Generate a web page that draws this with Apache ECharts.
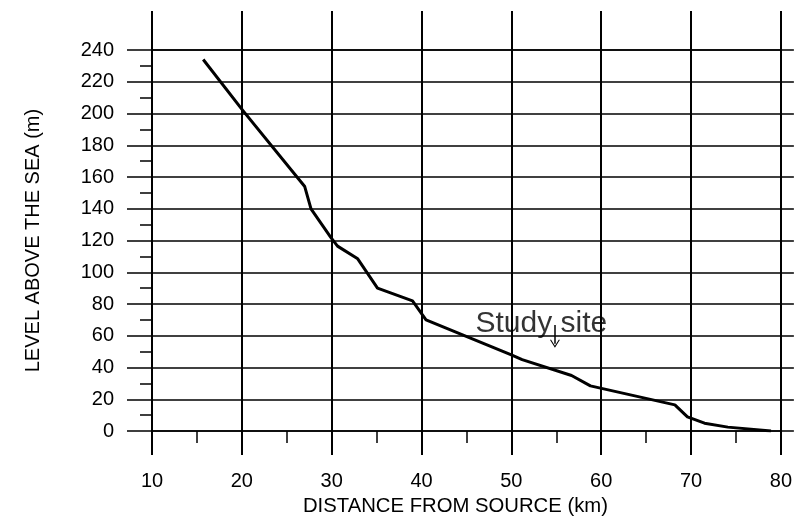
<!DOCTYPE html>
<html>
<head>
<meta charset="utf-8">
<script src="https://cdn.jsdelivr.net/npm/echarts@6/dist/echarts.min.js"></script>
<style>
html,body{margin:0;padding:0;background:#fff;}
#chart{width:795px;height:521px;}
</style>
</head>
<body>
<div id="chart"></div>
<script>
// Longitudinal profile: distance from source (km) vs level above sea (m)
const distanceKm = [15.7, 20.1, 27.0, 27.7, 29.9, 30.65, 32.9, 35.1, 39.0, 40.5, 50.0, 51.2, 56.7, 58.8, 68.2, 69.6, 71.5, 74.1, 78.9];
const levelM     = [234, 202, 154, 140, 122, 116.5, 108.5, 90, 82, 70, 48, 45, 35, 28.5, 16.5, 9, 5, 2.5, 0];

const xTicks = [10, 20, 30, 40, 50, 60, 70, 80];
const yTicks = [0, 20, 40, 60, 80, 100, 120, 140, 160, 180, 200, 220, 240];

// annotation: label anchor (left edge, middle) and arrow (x, from y, to y) in data units
const annotationText = ['Study site'];
const annotationX = [46.0];
const annotationY = [67.5];
const arrowX = [54.85];
const arrowFromY = [66.8];
const arrowToY = [55.0];

const xTitle = 'DISTANCE FROM SOURCE (km)';
const yTitle = 'LEVEL ABOVE THE SEA (m)';

const FONT = '"Liberation Sans", Arial, sans-serif';
const chart = echarts.init(document.getElementById('chart'), null, {renderer: 'canvas'});

const xMin = xTicks[0], xMax = xTicks[xTicks.length - 1];
const yMin = yTicks[0], yMax = yTicks[yTicks.length - 1];
const xInt = xTicks[1] - xTicks[0], yInt = yTicks[1] - yTicks[0];

const arrowHead = 'path://M5,0 L10,8 L8.8,8 L5,2 L1.2,8 L0,8 Z';

const option = {
  backgroundColor: '#ffffff',
  animation: false,
  grid: {left: 152, right: 12, top: 50, bottom: 83, containLabel: false},
  xAxis: [
    {
      type: 'value', position: 'bottom', min: xMin, max: xMax, interval: xInt,
      axisLine: {show: true, onZero: false, lineStyle: {color: '#000', width: 1.5}},
      axisTick: {show: true, length: 24, lineStyle: {color: '#000', width: 2}},
      minorTick: {show: true, splitNumber: 2, length: 12, lineStyle: {color: '#000', width: 1.5}},
      splitLine: {show: true, lineStyle: {color: '#000', width: 2}},
      axisLabel: {margin: 40, fontSize: 20, color: '#000', fontFamily: FONT},
      name: xTitle, nameLocation: 'middle', nameGap: 62,
      nameTextStyle: {fontSize: 20.3, color: '#000', fontFamily: FONT, padding: [0, 22, 0, 0]}
    },
    {
      type: 'value', position: 'top', min: xMin, max: xMax, interval: xInt,
      axisLine: {show: true, onZero: false, lineStyle: {color: '#000', width: 1.5}},
      axisTick: {show: true, length: 39, lineStyle: {color: '#000', width: 2}},
      axisLabel: {show: false},
      splitLine: {show: false}
    }
  ],
  yAxis: [
    {
      type: 'value', position: 'left', min: yMin, max: yMax, interval: yInt,
      axisLine: {show: true, onZero: false, lineStyle: {color: '#000', width: 2}},
      axisTick: {show: true, length: 25, lineStyle: {color: '#000', width: 1.5}},
      minorTick: {show: true, splitNumber: 2, length: 12, lineStyle: {color: '#000', width: 1.5}},
      splitLine: {show: true, lineStyle: {color: '#000', width: 1.5}},
      axisLabel: {margin: 38, fontSize: 20, color: '#000', fontFamily: FONT},
      name: yTitle, nameLocation: 'middle', nameGap: 109, nameRotate: 90,
      nameTextStyle: {fontSize: 20, color: '#000', fontFamily: FONT}
    },
    {
      type: 'value', position: 'right', min: yMin, max: yMax, interval: yInt,
      axisLine: {show: true, onZero: false, lineStyle: {color: '#000', width: 2}},
      axisTick: {show: true, length: 13, lineStyle: {color: '#000', width: 1.5}},
      axisLabel: {show: false},
      splitLine: {show: false}
    }
  ],
  series: [
    {
      type: 'line', xAxisIndex: 0, yAxisIndex: 0,
      data: distanceKm.map((d, i) => [d, levelM[i]]),
      showSymbol: false, symbol: 'none',
      lineStyle: {color: '#000', width: 3, join: 'round'},
      z: 5
    },
    {
      type: 'scatter', xAxisIndex: 0, yAxisIndex: 0,
      symbolSize: 0,
      data: annotationText.map((t, i) => ({name: t, value: [annotationX[i], annotationY[i]]})),
      label: {show: true, position: 'inside', align: 'left', verticalAlign: 'middle', fontSize: 30,
        color: '#000', fontFamily: FONT, formatter: p => p.name},
      markLine: {
        silent: true, animation: false,
        symbol: ['none', arrowHead], symbolSize: [10, 8],
        lineStyle: {color: '#000', width: 1.5, type: 'solid'},
        label: {show: false},
        data: arrowX.map((x, i) => [{coord: [x, arrowFromY[i]]}, {coord: [x, arrowToY[i]]}])
      },
      silent: true, z: 6
    }
  ]
};
chart.setOption(option);
</script>
</body>
</html>
